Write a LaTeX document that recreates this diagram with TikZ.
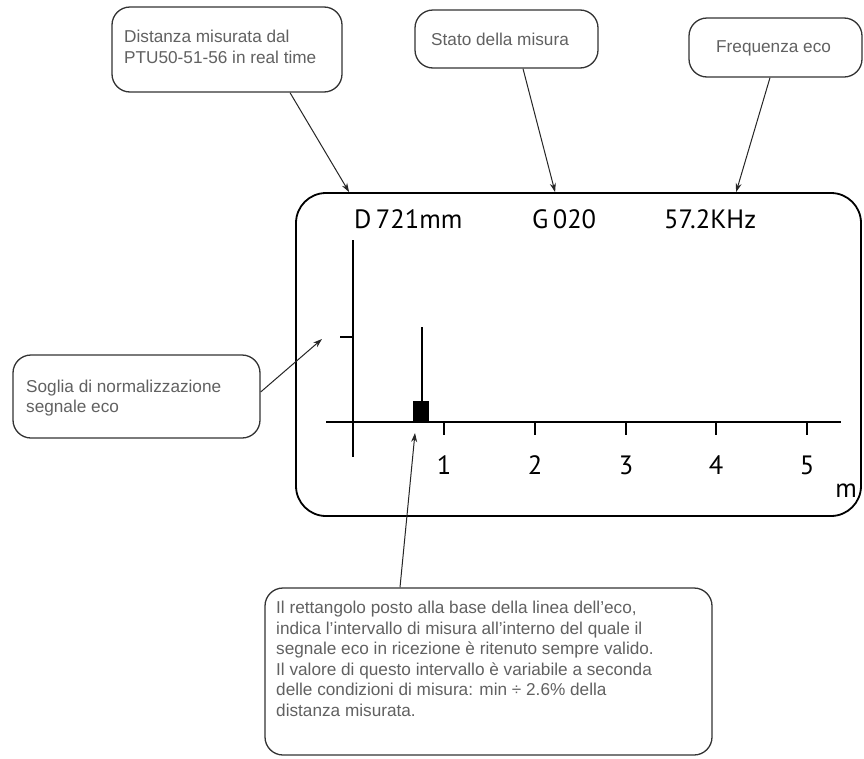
\documentclass[tikz,border=0pt]{standalone}
\usepackage{fontspec}
\setmainfont{Liberation Sans}
\newfontfamily\scrfont{PT Sans}
\usetikzlibrary{arrows.meta,calc}
\begin{document}
\begin{tikzpicture}[x=1pt,y=-1pt,
  callout/.style={draw=black!80, line width=1.3pt, rounded corners=18pt, inner sep=0pt},
  ctext/.style={font=\fontsize{17.2}{20.5}\selectfont, text=black!62, align=left, inner sep=0pt},
  scrtext/.style={font=\scrfont\fontsize{26.5}{30}\selectfont, inner sep=0pt, anchor=base west},
  axlbl/.style={font=\scrfont\fontsize{26.5}{30}\selectfont, inner sep=0pt, anchor=base},
  ptr/.style={draw=black!85, line width=1pt, -{Stealth[length=9pt,width=6pt]}},
  axisline/.style={line width=2pt, draw=black},
  tickline/.style={line width=1.5pt, draw=black}
]
\useasboundingbox (0,0) rectangle (864,758);
\fill[white] (0,0) rectangle (864,758);

% callout boxes
\node[callout, minimum width=230pt, minimum height=85pt] (b1) at (227,49.5) {};
\node[ctext, anchor=west] (t1) at (124,47) {Distanza misurata dal\\PTU50-51-56 in real time};

\node[callout, minimum width=183pt, minimum height=58pt] (b2) at (506.5,39) {};
\node[ctext, anchor=west] (t2) at (431,39) {Stato della misura};

\node[callout, minimum width=173pt, minimum height=59pt] (b3) at (775.5,47.5) {};
\node[ctext, anchor=west] (t3) at (716,48) {Frequenza eco};

\node[callout, minimum width=247pt, minimum height=83pt] (b4) at (136.5,396.5) {};
\node[ctext, anchor=west] (t4) at (26,398) {Soglia di normalizzazione\\segnale eco};

\node[callout, minimum width=447pt, minimum height=167pt] (b5) at (488.5,671.5) {};
\node[ctext, anchor=north west] (t5) at (276,601) {Il rettangolo posto alla base della linea dell’eco,\\
indica l’intervallo di misura all’interno del quale il\\
segnale eco in ricezione è ritenuto sempre valido.\\
Il valore di questo intervallo è variabile a seconda\\
delle condizioni di misura: min ÷ 2.6\% della\\
distanza misurata.};

% screen
\node[draw=black, line width=1.8pt, rounded corners=30pt, minimum width=565pt, minimum height=323pt, inner sep=0pt] (screen) at (578.5,354.5) {};

\node[scrtext] (dist) at (354,228) {D\,721mm};
\node[scrtext] (stato) at (532,228) {G\,020};
\node[scrtext] (freq) at (664,228) {57.2KHz};

% axes
\draw[axisline] (326,422) -- (841,422);
\draw[axisline] (353,240) -- (353,457);
\draw[tickline] (340,337) -- (353,337);
\foreach \x/\l in {444/1,535/2,626/3,716/4,807/5}{
  \draw[tickline] (\x,422) -- (\x,435);
  \node[axlbl] (lbl\l) at (\x,474) {\l};
}
\node[axlbl] (unit) at (846,497) {m};

% echo
\draw[tickline] (422,327) -- (422,402);
\fill[black] (413,401) rectangle (429,422);

% pointer targets
\coordinate (tip1) at ($(screen.north west)+(54,0)$);
\coordinate (tip2) at ($(screen.north west)+(260,0)$);
\coordinate (tip3) at ($(screen.north west)+(441,0)$);
\coordinate (tip4) at (322,339);
\coordinate (tip5) at (415,433);

\draw[ptr] ([xshift=63pt]b1.south) -- (tip1);
\draw[ptr] ([xshift=16.5pt]b2.south) -- (tip2);
\draw[ptr] ([xshift=-5.5pt]b3.south) -- (tip3);
\draw[ptr] ([yshift=4.5pt]b4.east) -- (tip4);
\draw[ptr] ([xshift=-88.5pt]b5.north) -- (tip5);
\end{tikzpicture}
\end{document}
